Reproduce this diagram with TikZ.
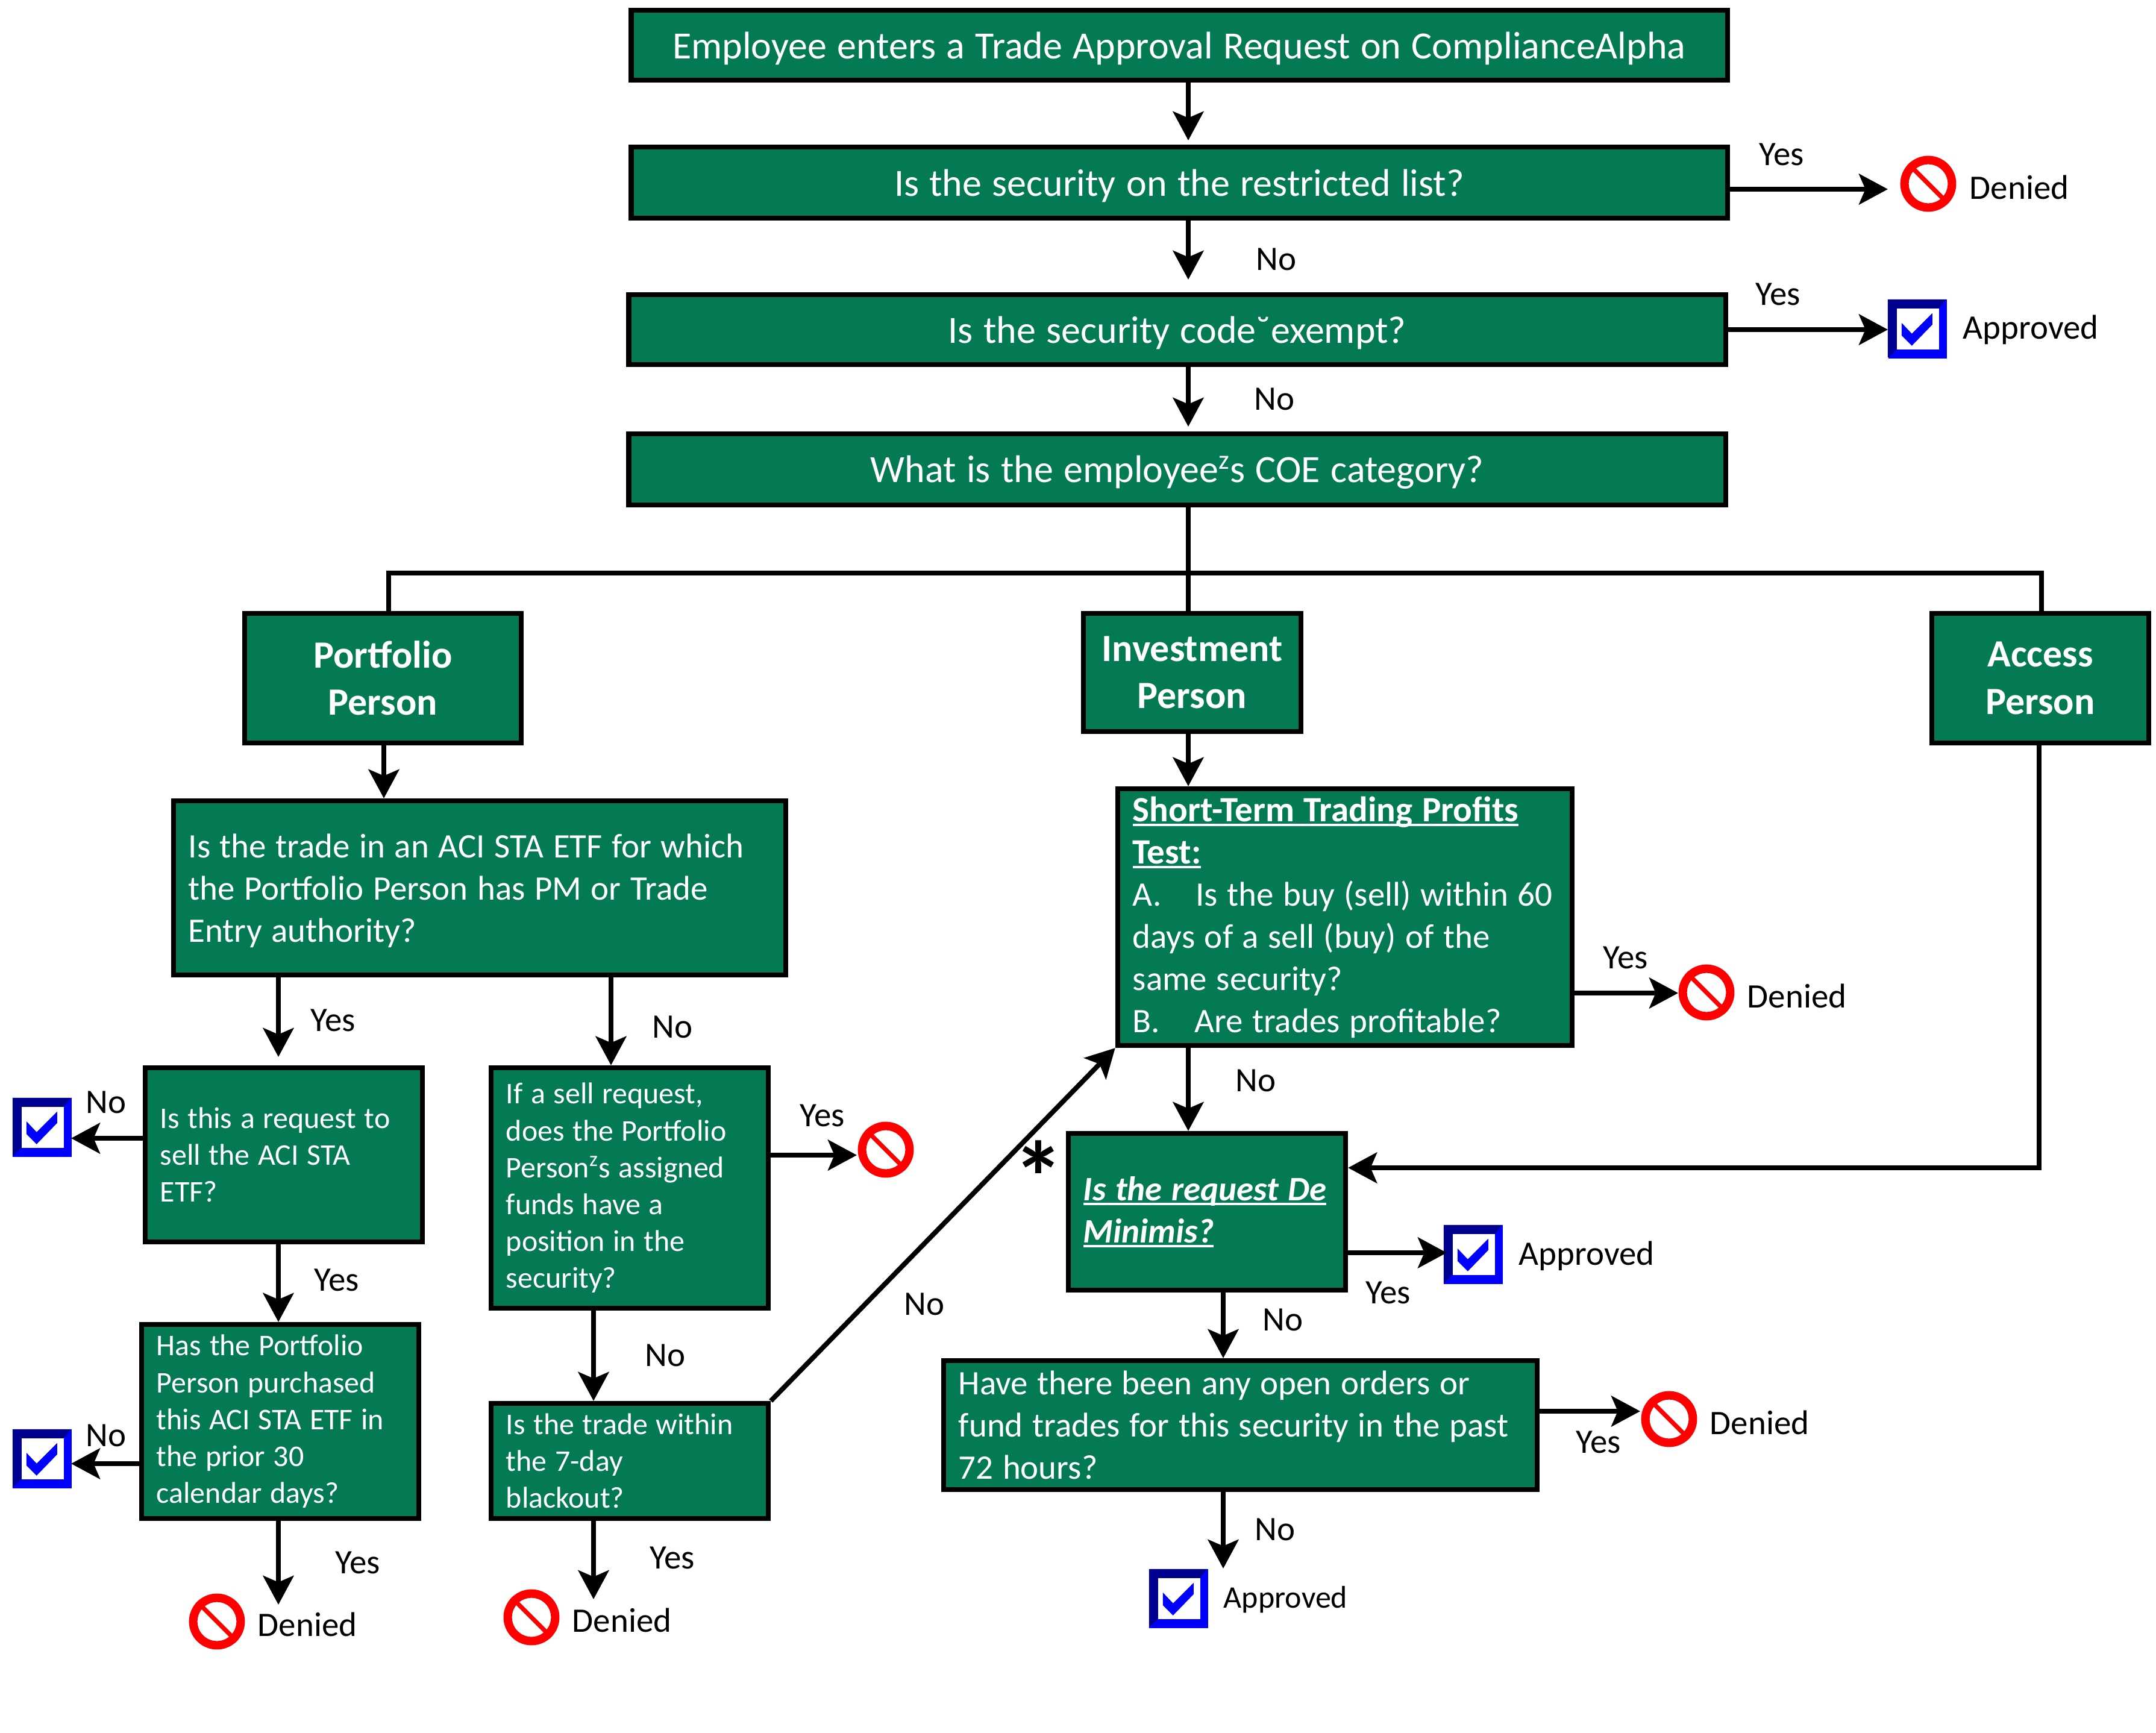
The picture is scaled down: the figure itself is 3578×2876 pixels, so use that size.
\documentclass[tikz,border=0pt]{standalone}
\usepackage{fontspec}
\setmainfont{Carlito}
\usetikzlibrary{arrows.meta,calc}
\definecolor{boxgreen}{HTML}{037A53}
\definecolor{navybevel}{HTML}{000090}
\newcommand{\fbig}{\fontsize{16.2pt}{19.9pt}\selectfont}
\newcommand{\ftop}{\fontsize{18.2pt}{22pt}\selectfont}
\newcommand{\fsmall}{\fontsize{14.2pt}{17.4pt}\selectfont}
\newcommand{\fhead}{\fontsize{18.2pt}{22.2pt}\selectfont\bfseries}
\newcommand{\fapp}{\fontsize{14.8pt}{17.4pt}\selectfont}
\newcommand{\ftitle}{\fontsize{16.8pt}{19.9pt}\selectfont\bfseries}
\newsavebox{\ulnbox}
\newcommand{\uln}[1]{\leavevmode\sbox{\ulnbox}{#1}\rlap{\rule[-0.13em]{\wd\ulnbox}{0.07em}}\usebox{\ulnbox}}
\newcommand{\flowbox}[6][]{%
  \pgfmathsetmacro{\bxW}{(#4-#2-8)*0.284528}%
  \pgfmathsetmacro{\bxH}{(#5-#3-8)*0.284528}%
  \pgfmathsetmacro{\bxT}{(#4-#2-58)*0.284528}%
  \node[flowrect,minimum width=\bxW pt,minimum height=\bxH pt,text width=\bxT pt,#1]
    (#6) at ({(#2+#4)/2},{(#3+#5)/2})}
\newcommand{\deniedicon}[3]{%
  \node[deniedmark] (#1) at (#2,#3) {};
  \draw[red,line width=2.1pt] (#1.135) -- (#1.-45);}
\newcommand{\checkicon}[3]{%
  \node[checkmarkbox] (#1) at (#2,#3) {};
  \begin{scope}[shift={(#1.north west)}]
    \fill[navybevel] (0,0) -- (97,0) -- (85,15) -- (15,15) -- (15,83) -- (0,97) -- cycle;
    \fill[white] (15,15) rectangle (85,83);
    \fill[blue] (23,39) -- (40,57) -- (74,23) -- (74,42) -- (40,77) -- (23,60) -- cycle;
  \end{scope}}
\tikzset{
  x=0.01cm,y=-0.01cm,
  flowrect/.style={draw=black,fill=boxgreen,line width=2.3pt,text=white,inner xsep=7.1pt,inner ysep=0pt,align=left,font=\fbig,execute at begin node={\spaceskip=0.272em\relax}},
  lowered/.style={execute at begin node={\rule{0pt}{0.85em}}},
  headrect/.style={align=center,font=\fhead},
  centrect/.style={align=center,font=\ftop,lowered},
  smallrect/.style={font=\fsmall},
  arr/.style={draw=black,line width=2.5pt,-{Stealth[length=13.6pt,width=14.4pt,inset=3pt]}},
  plainline/.style={draw=black,line width=2.5pt},
  lab/.style={text=black,font=\fbig,inner sep=0pt},
  deniedmark/.style={circle,draw=red,line width=4pt,fill=white,minimum size=22.4pt,inner sep=0pt},
  checkmarkbox/.style={rectangle,fill=blue,minimum size=27.6pt,inner sep=0pt},
}
\begin{document}
\begin{tikzpicture}
\useasboundingbox (0,0) rectangle (3578,2876);
\fill[white] (0,0) rectangle (3578,2876);
% guide coordinates
\coordinate (spine) at (1972,0);
\coordinate (pfx) at (637,0);
\coordinate (pfbus) at (645,0);
\coordinate (lx) at (462,0);
\coordinate (mx) at (1014,0);
\coordinate (m2x) at (985,0);
\coordinate (ox) at (2030,0);
\coordinate (busY) at (0,951);
\coordinate (accx) at (3388,0);
\coordinate (acca) at (3384,1938);
% top boxes
\flowbox[centrect]{1044}{13}{2870}{137}{top} {Employee enters a Trade Approval Request on ComplianceAlpha};
\flowbox[centrect]{1044}{240}{2870}{366}{restricted} {Is the security on the restricted list?};
\flowbox[centrect]{1040}{485}{2867}{609}{exempt} {Is the security code˘exempt?};
\flowbox[centrect]{1040}{716}{2867}{842}{category} {What is the employee\textsuperscript{z}s COE category?};
% categories
\flowbox[headrect]{402}{1014}{869}{1237}{portfolio} {Portfolio\\Person};
\flowbox[headrect]{1794}{1014}{2163}{1218}{investment} {Investment\\Person};
\flowbox[headrect]{3202}{1014}{3570}{1237}{access} {Access\\Person};
% left column
\flowbox[lowered]{284}{1325}{1308}{1622}{aci} {Is the trade in an ACI STA ETF for which\\the Portfolio Person has PM or Trade\\Entry authority?};
\flowbox[smallrect]{237}{1768}{705}{2065}{sellreq} {Is this a request to\\sell the ACI STA\\ETF?};
\flowbox[smallrect]{231}{2194}{699}{2524}{purchased} {Has the Portfolio\\Person purchased\\this ACI STA ETF in\\the prior 30\\calendar days?};
\flowbox[smallrect]{811}{1768}{1279}{2175}{position} {If a sell request,\\does the Portfolio\\Person\textsuperscript{z}s assigned\\funds have a\\position in the\\security?};
\flowbox[smallrect]{811}{2325}{1279}{2524}{blackout} {Is the trade within\\the 7-day\\blackout?};
% right column
\flowbox{1851}{1305}{2613}{1739}{shortterm} {{\ftitle\uln{Short-Term Trading Profits}}\\{\ftitle\uln{Test:}}\\A.\hspace{1em}Is the buy (sell) within 60\\days of a sell (buy) of the\\same security?\\B.\hspace{1em}Are trades profitable?};
\flowbox{1769}{1877}{2237}{2145}{deminimis} {{\bfseries\itshape\uln{Is the request De}}\\{\bfseries\itshape\uln{Minimis?}}};
\flowbox{1562}{2254}{2555}{2476}{openorders} {Have there been any open orders or\\fund trades for this security in the past\\72 hours?};
% icons
\deniedicon{d1}{3200}{305}
\checkicon{c1}{3182}{546}
\checkicon{c2}{70}{1871}
\checkicon{c3}{70}{2421}
\deniedicon{d2}{360}{2691}
\deniedicon{d3}{1470}{1908}
\deniedicon{d4}{882}{2684}
\deniedicon{d5}{2832}{1647}
\checkicon{c4}{2445}{2082}
\deniedicon{d6}{2770}{2355}
\checkicon{c5}{1956}{2653}
% free ends of connectors
\coordinate (t1) at (3133,314);
\coordinate (t2) at (3133,547);
\coordinate (t3) at (118,1889);
\coordinate (t4) at (118,2429);
\coordinate (t5) at (462,2663);
\coordinate (t6) at (1422,1917);
\coordinate (t7) at (985,2654);
\coordinate (t8) at (2785,1648);
\coordinate (t9) at (2401,2079);
\coordinate (t10) at (2722,2342);
\coordinate (t11) at (2030,2603);
\coordinate (u1) at (0,233);
\coordinate (u2) at (0,464);
\coordinate (u3) at (0,708);
\coordinate (u4) at (0,1754);
% connectors
\draw[arr] (spine |- top.south) -- (spine |- u1);
\draw[arr] (spine |- restricted.south) -- (spine |- u2);
\draw[arr] (spine |- exempt.south) -- (spine |- u3);
\draw[plainline] (spine |- category.south) -- (spine |- investment.north);
\draw[plainline,line join=miter] (pfbus |- portfolio.north) -- (pfbus |- busY) -- (accx |- busY) -- (accx |- access.north);
\draw[arr] (restricted.east |- t1) -- (t1);
\draw[arr] (exempt.east |- t2) -- (t2);
\draw[arr] (pfx |- portfolio.south) -- (pfx |- aci.north);
\draw[arr] (spine |- investment.south) -- (spine |- shortterm.north);
\draw[arr] (lx |- aci.south) -- (lx |- u4);
\draw[arr] (mx |- aci.south) -- (mx |- position.north);
\draw[arr] (sellreq.west |- t3) -- (t3);
\draw[arr] (lx |- sellreq.south) -- (lx |- purchased.north);
\draw[arr] (purchased.west |- t4) -- (t4);
\draw[arr] (lx |- purchased.south) -- (t5);
\draw[arr] (position.east |- t6) -- (t6);
\draw[arr] (m2x |- position.south) -- (m2x |- blackout.north);
\draw[arr] (m2x |- blackout.south) -- (t7);
\draw[arr,line width=2.3pt] (blackout.north east) -- (shortterm.south west);
\draw[arr] (shortterm.east |- t8) -- (t8);
\draw[arr] (spine |- shortterm.south) -- (spine |- deminimis.north);
\draw[arr] (acca |- access.south) -- (acca) -- (deminimis.east |- acca);
\draw[arr] (deminimis.east |- t9) -- (t9);
\draw[arr] (ox |- deminimis.south) -- (ox |- openorders.north);
\draw[arr] (openorders.east |- t10) -- (t10);
\draw[arr] (ox |- openorders.south) -- (t11);
% connector labels
\node[lab] (y1) at (2957,256) {Yes};
\node[lab] (n1) at (2118,430) {No};
\node[lab] (y2) at (2951,488) {Yes};
\node[lab] (n2) at (2115,662) {No};
\node[lab] (y3) at (553,1693) {Yes};
\node[lab] (n3) at (1116,1704) {No};
\node[lab] (n4) at (176,1829) {No};
\node[lab] (y4) at (559,2124) {Yes};
\node[lab] (n5) at (176,2382) {No};
\node[lab] (y5) at (594,2593) {Yes};
\node[lab] (y6) at (1365,1851) {Yes};
\node[lab] (n6) at (1104,2249) {No};
\node[lab] (y7) at (1116,2585) {Yes};
\node[lab] (n7) at (1534,2164) {No};
\node[lab] (y8) at (2698,1589) {Yes};
\node[lab] (n8) at (2084,1793) {No};
\node[lab] (y9) at (2304,2145) {Yes};
\node[lab] (n9) at (2129,2190) {No};
\node[lab] (y10) at (2653,2393) {Yes};
\node[lab] (n10) at (2116,2538) {No};
% outcome labels
\node[lab,anchor=west] (dl1) at (3268,311) {Denied};
\node[lab,anchor=west] (al1) at (3257,547) {Approved};
\node[lab,anchor=west] (dl2) at (427,2696) {Denied};
\node[lab,anchor=west] (dl3) at (949,2689) {Denied};
\node[lab,anchor=west] (dl4) at (2899,1653) {Denied};
\node[lab,anchor=west] (al2) at (2520,2084) {Approved};
\node[lab,anchor=west] (dl5) at (2837,2361) {Denied};
\node[lab,anchor=west,font=\fapp] (al3) at (2030,2655) {Approved};
\node[lab,font=\fontsize{48pt}{48pt}\selectfont\bfseries] (star) at (1724,1953) {*};
\end{tikzpicture}
\end{document}
